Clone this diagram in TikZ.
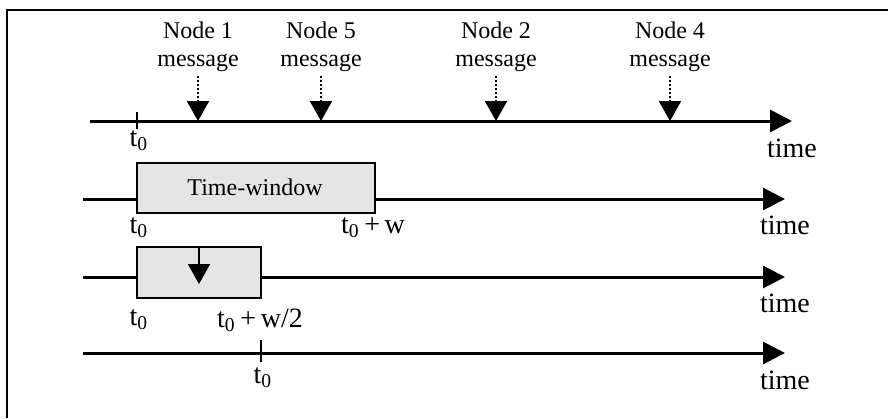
\documentclass[tikz,border=0pt]{standalone}
\usepackage{fontspec}
\setmainfont{Liberation Serif}
\usetikzlibrary{arrows.meta}
\begin{document}
\begin{tikzpicture}[x=0.5pt,y=-0.5pt,
  axis/.style={line width=1.5pt,-{Triangle[length=11pt,width=11pt]}},
  msg/.style={densely dotted,line width=1pt,-{Triangle[length=10pt,width=11pt]}},
  drop/.style={line width=1pt,-{Triangle[length=10pt,width=11pt]}},
  lbl/.style={font=\fontsize{12}{14}\selectfont,align=center,inner sep=2pt},
  tlbl/.style={font=\fontsize{14}{16}\selectfont,inner sep=0pt},
  win/.style={draw,line width=1pt,fill=black!10},
  tick/.style={line width=1pt},
  frame/.style={line width=1.2pt}]
\useasboundingbox (0,0) rectangle (888,418);
% frame
\coordinate (fb) at (7,418);
\coordinate (fc) at (7,10);
\coordinate (fr) at (888,10);
\draw[frame] (fb) -- (fc) -- (fr);

% ---- axis 1
\coordinate (a1s) at (90,121);
\coordinate (a1e) at (792,121);
\draw[axis] (a1s) -- (a1e);
\coordinate (k1a) at (137,112);
\coordinate (k1b) at (137,129);
\draw[tick] (k1a) -- (k1b);
\node[tlbl] (t01) at (139,141) {t\textsubscript{0}};
\node[tlbl] (time1) at (792,148) {time};
\node[lbl] (n1) at (198,47) {Node 1\\message};
\node[lbl] (n5) at (321,47) {Node 5\\message};
\node[lbl] (n2) at (496,47) {Node 2\\message};
\node[lbl] (n4) at (670,47) {Node 4\\message};
\coordinate (m1) at (198,121);
\coordinate (m5) at (321,121);
\coordinate (m2) at (496,121);
\coordinate (m4) at (670,121);
\draw[msg] (n1.south) -- (m1);
\draw[msg] (n5.south) -- (m5);
\draw[msg] (n2.south) -- (m2);
\draw[msg] (n4.south) -- (m4);

% ---- axis 2
\coordinate (a2s) at (83,199);
\coordinate (a2e) at (785,199);
\draw[axis] (a2s) -- (a2e);
\coordinate (w2a) at (137,163);
\coordinate (w2b) at (375,213);
\draw[win] (w2a) rectangle (w2b);
\node[lbl] (tw) at (255,187) {Time-window};
\node[tlbl] (t02) at (139,228) {t\textsubscript{0}};
\node[tlbl] (t0w) at (373,228) {t\textsubscript{0}\,+\,w};
\node[tlbl] (time2) at (785,225) {time};

% ---- axis 3
\coordinate (a3s) at (83,277);
\coordinate (a3e) at (785,277);
\draw[axis] (a3s) -- (a3e);
\coordinate (w3a) at (137,247);
\coordinate (w3b) at (261,298);
\draw[win] (w3a) rectangle (w3b);
\coordinate (d3a) at (199,247);
\coordinate (d3b) at (199,284);
\draw[drop] (d3a) -- (d3b);
\node[tlbl] (t03) at (139,320) {t\textsubscript{0}};
\node[tlbl] (t0w2) at (260,320) {t\textsubscript{0}\,+\,w/2};
\node[tlbl] (time3) at (785,303) {time};

% ---- axis 4
\coordinate (a4s) at (83,353);
\coordinate (a4e) at (785,353);
\draw[axis] (a4s) -- (a4e);
\coordinate (k4a) at (261,340);
\coordinate (k4b) at (261,362);
\draw[tick] (k4a) -- (k4b);
\node[tlbl] (t04) at (263,378) {t\textsubscript{0}};
\node[tlbl] (time4) at (785,380) {time};
\end{tikzpicture}
\end{document}
